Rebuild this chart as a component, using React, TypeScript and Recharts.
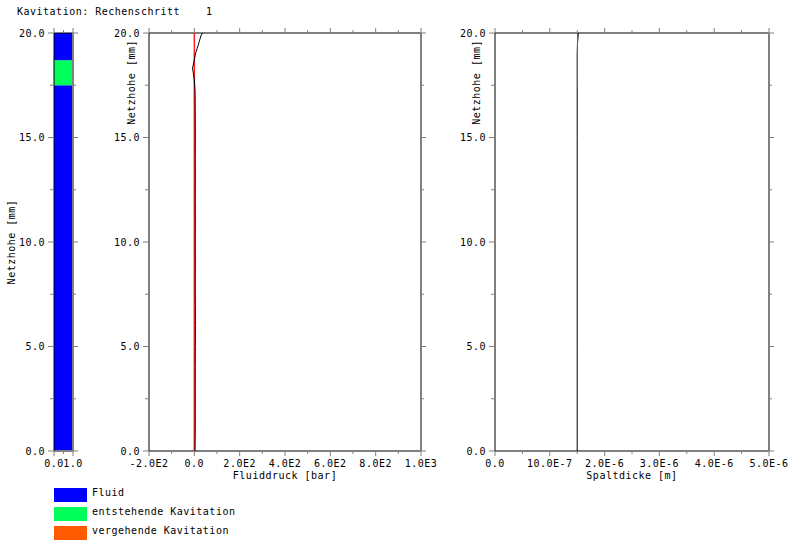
import React from 'react';
import { ComposedChart, Scatter, XAxis, YAxis, ReferenceArea, ReferenceLine } from 'recharts';

// ---------- data ----------
const titleText = 'Kavitation: Rechenschritt    1';
const heightAxisTitle = 'Netzhohe [mm]';
const pressureAxisTitle = 'Fluiddruck [bar]';
const gapAxisTitle = 'Spaltdicke [m]';

const heightTicks = [0, 2.5, 5, 7.5, 10, 12.5, 15, 17.5, 20];
const heightTickLabels = ['0.0', '', '5.0', '', '10.0', '', '15.0', '', '20.0'];

const stateTicks = [0, 0.5, 1];
const stateTickLabels = ['0.0', '', '1.0'];

const pressureTicks = [-200, -100, 0, 100, 200, 300, 400, 500, 600, 700, 800, 900, 1000];
const pressureTickLabels = ['-2.0E2', '', '0.0', '', '2.0E2', '', '4.0E2', '', '6.0E2', '', '8.0E2', '', '1.0E3'];

const gapTicks = [0, 5e-7, 1e-6, 1.5e-6, 2e-6, 2.5e-6, 3e-6, 3.5e-6, 4e-6, 4.5e-6, 5e-6];
const gapTickLabels = ['0.0', '', '10.0E-7', '', '2.0E-6', '', '3.0E-6', '', '4.0E-6', '', '5.0E-6'];

// cavitation state per mesh height segment
const segmentFrom = [0, 17.5, 18.7];
const segmentTo = [17.5, 18.7, 20];
const segmentState = [0, 1, 0]; // index into legend

const legendLabels = ['Fluid', 'entstehende Kavitation', 'vergehende Kavitation'];
const legendColors = ['#0000ff', '#00ff5a', '#ff5a00'];

// fluid pressure [bar] over mesh height [mm]
const pressureHeights = [0, 1, 2, 3, 4, 5, 6, 7, 8, 9, 10, 11, 12, 13, 14, 15, 16, 17, 17.27, 17.5, 17.75, 17.9, 18.09, 18.2, 18.33, 18.47, 18.62, 18.79, 18.95, 19.1, 19.25, 19.43, 19.6, 19.75, 19.9, 20];
const pressureValues = [3, 4, 4, 4, 4, 4.5, 5, 4.5, 4, 4.5, 4, 4.5, 4, 4.5, 4, 4.5, 4, 3.5, 3, 1.5, 0, -2, -4.5, -6.5, -8, -4.5, -2, 1, 4, 7.5, 12, 17.5, 22, 26, 30, 37];

// previous / reference pressure line [bar]
const refPressureHeights = [0, 20];
const refPressureValues = [0, 0];

// gap thickness [m] over mesh height [mm]
const gapHeights = [0, 5, 10, 15, 17.5, 19, 19.5, 19.8, 20];
const gapValues = [1.5e-6, 1.5e-6, 1.5e-6, 1.5e-6, 1.5e-6, 1.5e-6, 1.505e-6, 1.515e-6, 1.52e-6];

const refGapHeights = [17.5, 20];
const refGapValues = [1.505e-6, 1.505e-6];

// ---------- layout / style ----------
const W = 795;
const H = 541;
const FONT = '"DejaVu Sans Mono", monospace';
const AXIS_GRAY = '#808080';
const YAXIS_W = 40;
const XAXIS_H = 30;

const textStyle: React.CSSProperties = {
  fontFamily: FONT,
  fontSize: 10,
  letterSpacing: 0.5,
  fill: '#000',
};

type Frame = { left: number; right: number; top: number; bottom: number };

const stateFrame: Frame = { left: 54, right: 73, top: 33, bottom: 451 };
const pressureFrame: Frame = { left: 149, right: 421, top: 33, bottom: 451 };
const gapFrame: Frame = { left: 495, right: 769, top: 33, bottom: 451 };

function findLabel(ticks: number[], labels: string[], v: number) {
  const span = Math.abs(ticks[ticks.length - 1] - ticks[0]);
  const i = ticks.findIndex((t) => Math.abs(t - v) <= span * 1e-6);
  return i >= 0 ? labels[i] : '';
}

function makeXTick(f: Frame, ticks: number[], labels: string[]) {
  return (props: any) => {
    const { x, payload } = props;
    const label = findLabel(ticks, labels, payload.value);
    const major = label !== '';
    const len = major ? 5 : 3;
    return (
      <g>
        <line x1={x} x2={x} y1={f.bottom} y2={f.bottom + len} stroke={AXIS_GRAY} />
        <line x1={x} x2={x} y1={f.top} y2={f.top - len} stroke={AXIS_GRAY} />
        {major && (
          <text x={x} y={f.bottom + 16} textAnchor="middle" style={textStyle}>
            {label}
          </text>
        )}
      </g>
    );
  };
}

function makeYTick(f: Frame) {
  return (props: any) => {
    const { y, payload } = props;
    const label = findLabel(heightTicks, heightTickLabels, payload.value);
    const major = label !== '';
    return (
      <g>
        <line x1={f.left - (major ? 6 : 4)} x2={f.left} y1={y} y2={y} stroke={AXIS_GRAY} />
        <line x1={f.right} x2={f.right + (major ? 5 : 3)} y1={y} y2={y} stroke={AXIS_GRAY} />
        {major && (
          <text x={f.left - 9} y={y + 3.5} textAnchor="end" style={textStyle}>
            {label}
          </text>
        )}
      </g>
    );
  };
}

function margins(f: Frame) {
  return {
    top: f.top,
    left: f.left - YAXIS_W,
    right: W - f.right,
    bottom: H - f.bottom - XAXIS_H,
  };
}

const emptyShape = () => <g />;

const abs: React.CSSProperties = { position: 'absolute', left: 0, top: 0 };

function Axes({ f, xDomain, xTicks, xLabels }: { f: Frame; xDomain: [number, number]; xTicks: number[]; xLabels: string[] }) {
  return null;
}

export default function App() {
  const pressureData = pressureHeights.map((h, i) => ({ h, v: pressureValues[i] }));
  const refPressureData = refPressureHeights.map((h, i) => ({ h, v: refPressureValues[i] }));
  const gapData = gapHeights.map((h, i) => ({ h, v: gapValues[i] }));
  const refGapData = refGapHeights.map((h, i) => ({ h, v: refGapValues[i] }));

  const commonY = (f: Frame) => (
    <YAxis
      type="number"
      dataKey="h"
      domain={[0, 20]}
      ticks={heightTicks}
      interval={0}
      allowDataOverflow
      width={YAXIS_W}
      tickLine={false}
      tickSize={0}
      tickMargin={0}
      axisLine={{ stroke: '#000', strokeWidth: 1 }}
      tick={makeYTick(f)}
    />
  );

  const commonX = (f: Frame, domain: [number, number], ticks: number[], labels: string[]) => (
    <XAxis
      type="number"
      dataKey="v"
      domain={domain}
      ticks={ticks}
      interval={0}
      allowDataOverflow
      height={XAXIS_H}
      tickLine={false}
      tickSize={0}
      tickMargin={0}
      axisLine={{ stroke: AXIS_GRAY, strokeWidth: 2 }}
      tick={makeXTick(f, ticks, labels)}
    />
  );

  return (
    <div style={{ position: 'absolute', left: 0, top: 0, width: W, height: H, background: '#fff', overflow: 'hidden' }}>
      {/* cavitation state column */}
      <div style={abs}>
        <ComposedChart width={W} height={H} margin={margins(stateFrame)}>
          {commonX(stateFrame, [0, 1], stateTicks, stateTickLabels)}
          {commonY(stateFrame)}
          {segmentFrom.map((from, i) => (
            <ReferenceArea
              key={i}
              x1={0}
              x2={1}
              y1={from}
              y2={segmentTo[i]}
              fill={legendColors[segmentState[i]]}
              fillOpacity={1}
              stroke="none"
            />
          ))}
          <ReferenceLine y={20} stroke="#000" />
          <ReferenceLine x={1} stroke={AXIS_GRAY} strokeWidth={2} />
        </ComposedChart>
      </div>

      {/* fluid pressure */}
      <div style={abs}>
        <ComposedChart width={W} height={H} margin={margins(pressureFrame)}>
          {commonX(pressureFrame, [-200, 1000], pressureTicks, pressureTickLabels)}
          {commonY(pressureFrame)}
          <ReferenceLine y={20} stroke="#000" />
          <ReferenceLine x={1000} stroke={AXIS_GRAY} strokeWidth={2} />
          <Scatter
            data={refPressureData}
            fill="#ff2020"
            line={{ stroke: '#ff2020', strokeWidth: 1.5 }}
            lineType="joint"
            shape={emptyShape}
            isAnimationActive={false}
          />
          <Scatter
            data={pressureData}
            fill="#000"
            line={{ stroke: '#000', strokeWidth: 1 }}
            lineType="joint"
            shape={emptyShape}
            isAnimationActive={false}
          />
        </ComposedChart>
      </div>

      {/* gap thickness */}
      <div style={abs}>
        <ComposedChart width={W} height={H} margin={margins(gapFrame)}>
          {commonX(gapFrame, [0, 5e-6], gapTicks, gapTickLabels)}
          {commonY(gapFrame)}
          <ReferenceLine y={20} stroke="#000" />
          <ReferenceLine x={5e-6} stroke={AXIS_GRAY} strokeWidth={2} />
          <Scatter
            data={gapData}
            fill="#000"
            line={{ stroke: '#000', strokeWidth: 1 }}
            lineType="joint"
            shape={emptyShape}
            isAnimationActive={false}
          />
          <Scatter
            data={refGapData}
            fill="#ff2020"
            line={{ stroke: '#ff2020', strokeWidth: 1 }}
            lineType="joint"
            shape={emptyShape}
            isAnimationActive={false}
          />
        </ComposedChart>
      </div>

      {/* texts and legend */}
      <svg width={W} height={H} style={{ ...abs, pointerEvents: 'none' }}>
        <text x={17} y={15} style={{ ...textStyle, whiteSpace: 'pre' }} xmlSpace="preserve">
          {titleText}
        </text>
        <text transform={`translate(15, ${(stateFrame.top + stateFrame.bottom) / 2}) rotate(-90)`} textAnchor="middle" style={textStyle}>
          {heightAxisTitle}
        </text>
        <text transform={`translate(135, 40) rotate(-90)`} textAnchor="end" style={textStyle}>
          {heightAxisTitle}
        </text>
        <text transform={`translate(480, 40) rotate(-90)`} textAnchor="end" style={textStyle}>
          {heightAxisTitle}
        </text>
        <text x={(pressureFrame.left + pressureFrame.right) / 2} y={479} textAnchor="middle" style={textStyle}>
          {pressureAxisTitle}
        </text>
        <text x={(gapFrame.left + gapFrame.right) / 2} y={479} textAnchor="middle" style={textStyle}>
          {gapAxisTitle}
        </text>
        {legendLabels.map((label, i) => (
          <g key={label}>
            <rect x={54} y={488 + i * 19} width={33} height={14} fill={legendColors[i]} />
            <text x={92} y={496 + i * 19} style={textStyle}>
              {label}
            </text>
          </g>
        ))}
      </svg>
    </div>
  );
}
